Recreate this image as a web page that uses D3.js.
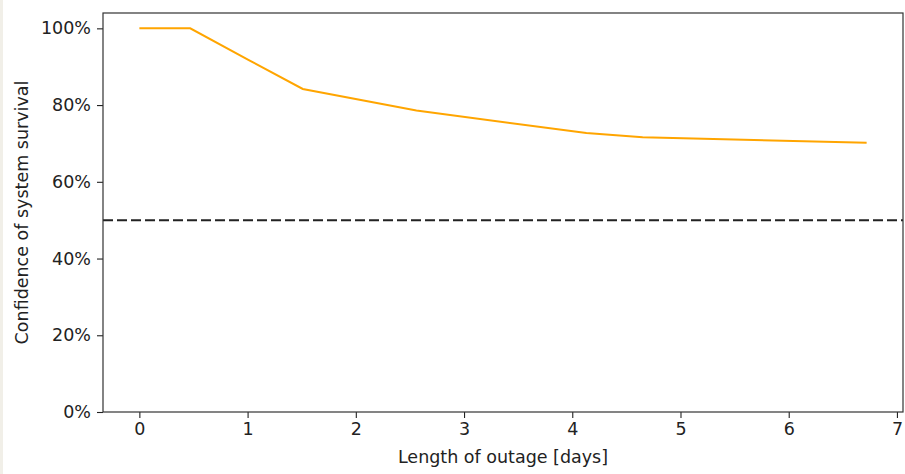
<!DOCTYPE html>
<html>
<head>
<meta charset="utf-8">
<script src="https://cdn.jsdelivr.net/npm/d3@7"></script>
<style>
  html, body { margin: 0; padding: 0; background: #fff; }
  body { border-left: 3px solid #f1efe8; }
  svg text { font-family: "DejaVu Sans", sans-serif; fill: #222; }
</style>
</head>
<body>
<div id="chart"></div>
<script>
// outage length (days) vs. confidence of survival
const days = [0, 0.47, 1.02, 1.51, 2.56, 4.13, 4.65, 6.72];
const survival = [1.0, 1.0, 0.916, 0.842, 0.786, 0.727, 0.716, 0.702];
const threshold = 0.5;
const xTicks = [0, 1, 2, 3, 4, 5, 6, 7];
const yTicks = [0, 0.2, 0.4, 0.6, 0.8, 1.0];

const width = 902, height = 474;
const margin = { top: 13, right: 2, bottom: 62, left: 100 };
const fontSize = 17.5;

const svg = d3.select('#chart').append('svg')
  .attr('width', width)
  .attr('height', height);

const x = d3.scaleLinear()
  .domain([-0.336, 7.056])
  .range([margin.left, width - margin.right]);

const y = d3.scaleLinear()
  .domain([0, 1.04])
  .range([height - margin.bottom, margin.top]);

// threshold line
svg.append('line')
  .attr('x1', x.range()[0]).attr('x2', x.range()[1])
  .attr('y1', y(threshold)).attr('y2', y(threshold))
  .attr('stroke', '#222')
  .attr('stroke-width', 2)
  .attr('stroke-dasharray', '10,4');

// survival curve
const line = d3.line()
  .x((d, i) => x(days[i]))
  .y(d => y(d));

svg.append('path')
  .datum(survival)
  .attr('fill', 'none')
  .attr('stroke', '#ffa500')
  .attr('stroke-width', 2)
  .attr('d', line);

// axes
const xAxis = d3.axisBottom(x).tickValues(xTicks).tickSize(6).tickPadding(5);
svg.append('g')
  .attr('transform', `translate(0, ${height - margin.bottom})`)
  .call(xAxis)
  .call(g => g.select('.domain').remove());

const yAxis = d3.axisLeft(y).tickValues(yTicks).tickSize(6).tickPadding(6)
  .tickFormat(d3.format('.0%'));
svg.append('g')
  .attr('transform', `translate(${margin.left}, 0)`)
  .call(yAxis)
  .call(g => g.select('.domain').remove());

svg.selectAll('.tick text')
  .attr('font-size', fontSize)
  .attr('font-family', '"DejaVu Sans", sans-serif')
  .attr('fill', '#222');
svg.selectAll('.tick line').attr('stroke', '#222').attr('stroke-width', 1.1);

// frame
svg.append('rect')
  .attr('x', margin.left)
  .attr('y', margin.top)
  .attr('width', width - margin.left - margin.right)
  .attr('height', height - margin.top - margin.bottom)
  .attr('fill', 'none')
  .attr('stroke', '#333')
  .attr('stroke-width', 1.2);

// labels
svg.append('text')
  .attr('x', (x.range()[0] + x.range()[1]) / 2)
  .attr('y', 463)
  .attr('text-anchor', 'middle')
  .attr('font-size', fontSize)
  .text('Length of outage [days]');

svg.append('text')
  .attr('transform', `translate(25, ${(y.range()[0] + y.range()[1]) / 2}) rotate(-90)`)
  .attr('text-anchor', 'middle')
  .attr('font-size', fontSize)
  .text('Confidence of system survival');
</script>
</body>
</html>
